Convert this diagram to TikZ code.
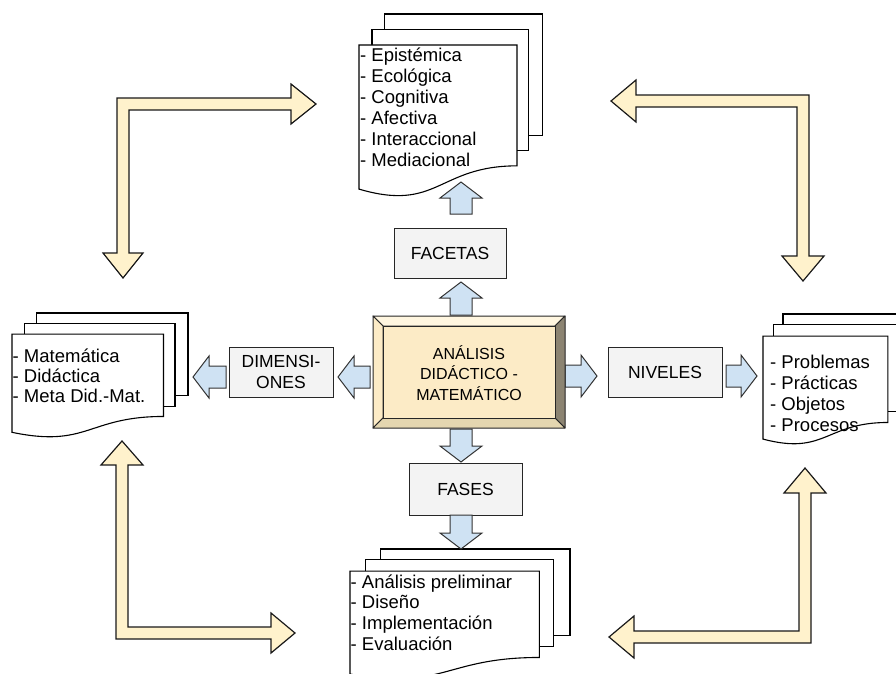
\documentclass[tikz,border=0pt]{standalone}
\usepackage{fontspec}
\setmainfont{Liberation Sans}
\definecolor{fff2cc}{HTML}{FFF2CC}
\definecolor{cfe2f3}{HTML}{CFE2F3}
\definecolor{f3f3f3}{HTML}{F3F3F3}
\definecolor{fcebc6}{HTML}{FCEBC6}
\definecolor{fff6e0}{HTML}{FFF6E0}
\definecolor{8c8472}{HTML}{8C8472}
\definecolor{e4d6b0}{HTML}{E4D6B0}

\tikzset{
  labelbox/.style={draw=black!85, fill=f3f3f3, line width=1pt, inner sep=0pt, align=center,
    font=\fontsize{17.5}{21}\selectfont},
  bluearrow/.style={draw=black!80, fill=cfe2f3, line width=1pt},
  yellowarrow/.style={draw=black!90, fill=fff2cc, line width=1.2pt},
  docpage/.style={draw=black, fill=white, line width=1.1pt},
  doctext/.style={anchor=north west, align=left, inner sep=0pt},
  bevel/.style={draw=black!85, line width=1pt, line join=round}
}

% block arrow: x, y of the tail, angle, length
\newcommand{\blockarrow}[4]{%
  \draw[bluearrow, shift={(#1,#2)}, rotate=#3] (0,-11) -- ({#4-16},-11) -- ({#4-16},-21)
    -- (#4,0) -- ({#4-16},21) -- ({#4-16},11) -- (0,11) -- cycle;}

% pile of three pages: x, y, width, height
\newcommand{\mdoc}[4]{%
  \begin{scope}[shift={(#1,#2)}, x=#3pt, y=-#4pt]
    \draw[docpage] (0.1376,0) rectangle (1,0.6663);
    \draw[docpage] (0.0709,0.084) rectangle (0.9259,0.7524);
    \draw[docpage] (0,0.1701) -- (0.8609,0.1701) -- (0.8609,0.8343)
      .. controls (0.4305,0.8343) and (0.4305,1.0899) .. (0,0.9621) -- cycle;
  \end{scope}}

\begin{document}
\begin{tikzpicture}[x=1pt,y=-1pt]
\useasboundingbox (0,0) rectangle (896,673);
\clip (0,0) rectangle (896,673);

% big arrows between the piles
\draw[yellowarrow] (316,104) -- (291,84) -- (291,98) -- (117,98) -- (117,253) -- (103,253)
  -- (123,278) -- (143,253) -- (129,253) -- (129,110) -- (291,110) -- (291,124) -- cycle;
\draw[yellowarrow] (611,101) -- (636,80) -- (636,95) -- (809,95) -- (809,256) -- (824,256)
  -- (803,281) -- (782,256) -- (797,256) -- (797,107) -- (636,107) -- (636,122) -- cycle;
\draw[yellowarrow] (122,441) -- (143,465) -- (128,465) -- (128,627) -- (271,627) -- (271,613)
  -- (295,633) -- (271,653) -- (271,639) -- (116,639) -- (116,465) -- (101,465) -- cycle;
\draw[yellowarrow] (805,468) -- (826,493) -- (811,493) -- (811,643) -- (634,643) -- (634,658)
  -- (609,637) -- (634,616) -- (634,631) -- (799,631) -- (799,493) -- (784,493) -- cycle;

% piles
\mdoc{359}{14}{183.5}{182}
\mdoc{12}{313}{176}{124}
\mdoc{763}{314}{145}{130}
\mdoc{350}{549}{220}{130}

\node (facetaslist) [doctext, font=\fontsize{18.5}{21}\selectfont] at (360,46.3)
  {\strut- Epistémica\\- Ecológica\\- Cognitiva\\- Afectiva\\- Interaccional\\- Mediacional};
\node (dimlist) [doctext, font=\fontsize{18.5}{20}\selectfont] at (12.5,348)
  {\strut- Matemática\\- Didáctica\\- Meta Did.-Mat.};
\node (nivlist) [doctext, font=\fontsize{18.5}{21}\selectfont] at (770,353.3)
  {\strut- Problemas\\- Prácticas\\- Objetos\\- Procesos};
\node (faselist) [doctext, font=\fontsize{18.5}{20.7}\selectfont] at (350.5,573.5)
  {\strut- Análisis preliminar\\- Diseño\\- Implementación\\- Evaluación};

% labels
\node (facetas) [labelbox, minimum width=112pt, minimum height=50pt] at (450,253) {FACETAS};
\node (dimensiones) [labelbox, minimum width=104pt, minimum height=50pt] at (281,372) {DIMENSI-\\ONES};
\node (niveles) [labelbox, minimum width=114pt, minimum height=50pt] at (665,372) {NIVELES};
\node (fases) [labelbox, minimum width=113pt, minimum height=52pt] at (465.5,489) {FASES};

% small arrows
\blockarrow{461}{315}{90}{33}
\blockarrow{461}{214}{90}{32}
\blockarrow{461}{429}{-90}{33}
\blockarrow{461}{515}{-90}{34}
\blockarrow{370}{377}{180}{32}
\blockarrow{226}{377}{180}{33}
\blockarrow{565}{376}{0}{32}
\blockarrow{726}{376}{0}{31}

% centre box
\draw[bevel, fill=fff6e0] (373,316) -- (565,316) -- (555,326) -- (383,326) -- cycle;
\draw[bevel, fill=fcebc6] (373,316) -- (383,326) -- (383,418) -- (373,428) -- cycle;
\draw[bevel, fill=8c8472] (565,316) -- (565,428) -- (555,418) -- (555,326) -- cycle;
\draw[bevel, fill=e4d6b0] (373,428) -- (565,428) -- (555,418) -- (383,418) -- cycle;
\draw[bevel, fill=fcebc6] (383,326) rectangle (555,418);
\node (core) [align=center, font=\fontsize{16}{20.5}\selectfont] at (469,373)
  {ANÁLISIS\\DIDÁCTICO -\\MATEMÁTICO};
\end{tikzpicture}
\end{document}
